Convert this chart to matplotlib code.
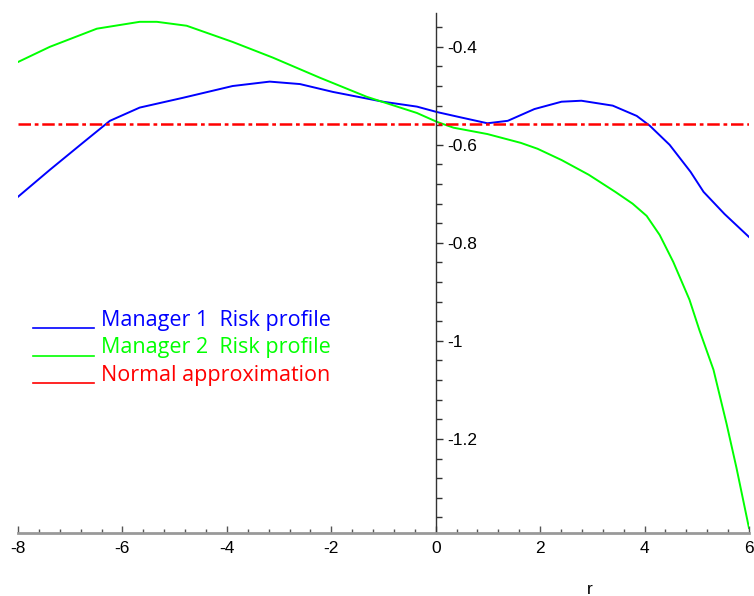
import numpy as np
import matplotlib.pyplot as plt
from matplotlib.ticker import MultipleLocator, FuncFormatter
from matplotlib.legend_handler import HandlerLine2D
from matplotlib.lines import Line2D

plt.rcParams['font.family'] = ['Liberation Sans', 'DejaVu Sans']
plt.rcParams['axes.unicode_minus'] = False

# risk profile of manager 1
r1 = [-8.0, -7.39, -6.76, -6.24, -5.67, -4.84, -3.89, -3.18, -2.60, -1.97, -1.01,
      -0.36, 0.02, 0.48, 0.99, 1.38, 1.89, 2.41, 2.79, 3.39, 3.85, 4.10, 4.48,
      4.88, 5.13, 5.53, 6.0]
risk1 = [-0.706, -0.651, -0.596, -0.551, -0.524, -0.504, -0.480, -0.471, -0.476,
         -0.492, -0.512, -0.522, -0.533, -0.544, -0.556, -0.551, -0.527, -0.512,
         -0.510, -0.520, -0.541, -0.561, -0.600, -0.655, -0.696, -0.741, -0.788]

# risk profile of manager 2
r2 = [-8.0, -7.39, -6.49, -5.67, -5.34, -4.77, -3.89, -3.12, -2.22, -1.32, -0.36,
      0.02, 0.34, 0.99, 1.63, 1.95, 2.41, 2.93, 3.44, 3.77, 4.04, 4.29, 4.55,
      4.86, 5.05, 5.32, 5.57, 5.76, 6.0]
risk2 = [-0.431, -0.400, -0.363, -0.349, -0.349, -0.357, -0.390, -0.422, -0.463,
         -0.502, -0.535, -0.553, -0.565, -0.578, -0.596, -0.608, -0.631, -0.661,
         -0.696, -0.720, -0.745, -0.784, -0.839, -0.916, -0.978, -1.059, -1.169,
         -1.259, -1.382]

# normal approximation (constant)
r_norm = [-8.0, 6.0]
normal_level = -0.558

labels = ['Manager 1  Risk profile', 'Manager 2  Risk profile', 'Normal approximation']
colors = ['#0000ff', '#00ff00', '#ff0000']


class BaselineLine(HandlerLine2D):
    # legend line sits on the text baseline, like an underscore
    def create_artists(self, legend, orig_handle, xdescent, ydescent,
                       width, height, fontsize, trans):
        arts = super().create_artists(legend, orig_handle, xdescent, ydescent,
                                      width, height, fontsize, trans)
        for a in arts:
            a.set_ydata(np.zeros_like(a.get_ydata()) - 1.5)
        return arts


fig = plt.figure(figsize=(7.54, 5.96), dpi=100)
ax = fig.add_axes([18 / 754, 63 / 596, 731 / 754, 520 / 596])

ax.plot(r1, risk1, color=colors[0], lw=1.4)
ax.plot(r2, risk2, color=colors[1], lw=1.4)
ax.plot(r_norm, [normal_level] * 2, color=colors[2], lw=1.8,
        dashes=(5, 1.5, 1.5, 1.5))

ax.set_xlim(-8, 6)
ax.set_ylim(-1.392, -0.331)

# y axis drawn through r = 0, x axis along the bottom
for s in ['top', 'left']:
    ax.spines[s].set_visible(False)
ax.spines['right'].set_position(('data', 0))
ax.spines['right'].set_color('#333333')
ax.spines['right'].set_linewidth(1.0)
ax.spines['bottom'].set_color('#999999')
ax.spines['bottom'].set_linewidth(2.0)
ax.yaxis.tick_right()

ax.xaxis.set_major_locator(MultipleLocator(2))
ax.xaxis.set_minor_locator(MultipleLocator(0.4))
ax.yaxis.set_major_locator(MultipleLocator(0.2))
ax.yaxis.set_minor_locator(MultipleLocator(0.04))
ax.yaxis.set_major_formatter(FuncFormatter(lambda v, p: '%g' % round(v, 2)))

ax.tick_params(axis='x', which='both', direction='in', color='#555555',
               labelsize=12.5, pad=6)
ax.tick_params(axis='x', which='major', length=5, width=1)
ax.tick_params(axis='x', which='minor', length=3, width=1)
ax.tick_params(axis='y', which='both', direction='out', color='#333333',
               labelsize=12.5, pad=3)
ax.tick_params(axis='y', which='major', length=5, width=1)
ax.tick_params(axis='y', which='minor', length=4, width=1)

ax.set_xlabel('r', fontsize=12.5)
ax.xaxis.set_label_coords(572 / 731, -0.095)

handles = [Line2D([], [], color=c, lw=1.2) for c in colors]
leg = ax.legend(handles, labels, loc='center left',
                bbox_to_anchor=(33 / 754, 248 / 596),
                bbox_transform=fig.transFigure, frameon=False,
                handlelength=2.85, handletextpad=0.3, labelspacing=0.32,
                borderpad=0, borderaxespad=0,
                prop={'family': 'Open Sans', 'size': 15.5},
                handler_map={Line2D: BaselineLine()})
for t, c in zip(leg.get_texts(), colors):
    t.set_color(c)

fig.savefig('out.png', dpi=100)
